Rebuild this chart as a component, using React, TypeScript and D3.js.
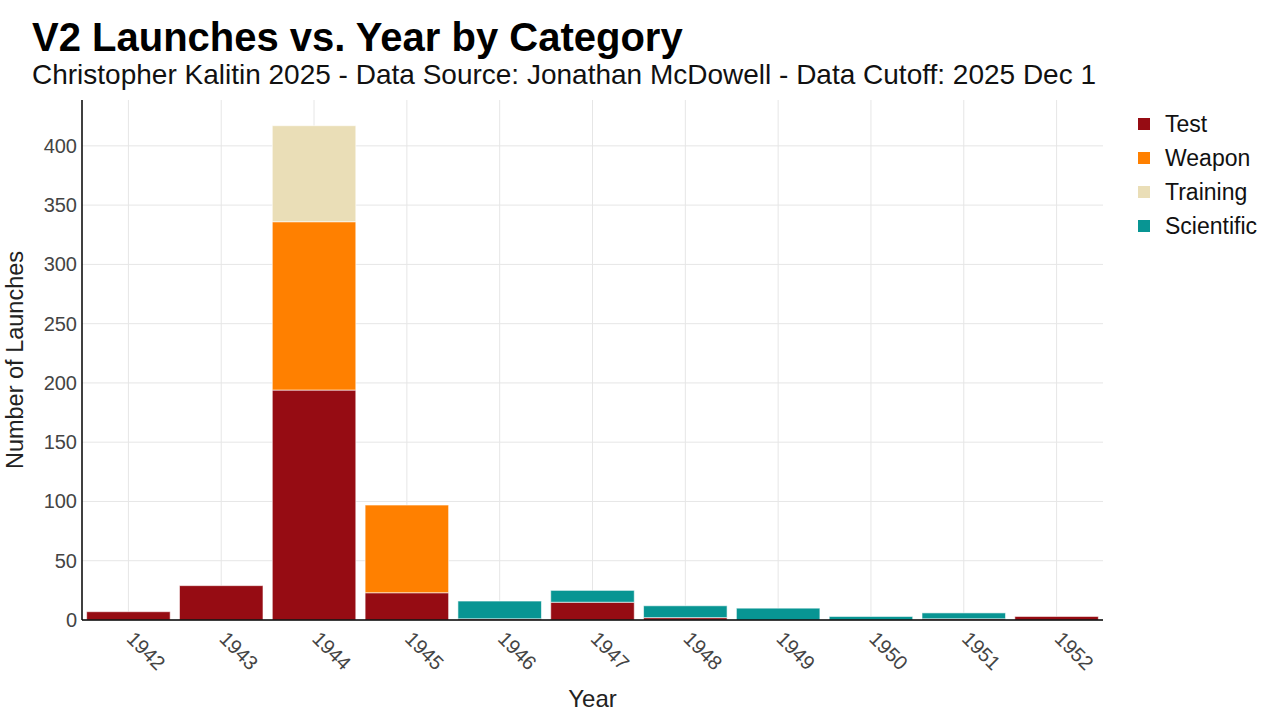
import { useMemo } from "react";
import * as d3 from "d3";

// ---------------------------------------------------------------------------
// Data
// ---------------------------------------------------------------------------

const YEARS = ["1942", "1943", "1944", "1945", "1946", "1947", "1948", "1949", "1950", "1951", "1952"];

const CATEGORIES = ["Test", "Weapon", "Training", "Scientific"];

const TEST = [7, 29, 194, 23, 1, 15, 2, 0, 0, 1, 3];
const WEAPON = [0, 0, 142, 74, 0, 0, 0, 0, 0, 0, 0];
const TRAINING = [0, 0, 81, 0, 0, 0, 0, 0, 0, 0, 0];
const SCIENTIFIC = [0, 0, 0, 0, 15, 10, 10, 10, 3, 5, 0];

const Y_TICKS = [0, 50, 100, 150, 200, 250, 300, 350, 400];

const COLORS: Record<string, string> = {
  Test: "#960c13",
  Weapon: "#ff8000",
  Training: "#eadeb7",
  Scientific: "#089593",
};

const FONT = "'Liberation Sans', Arial, sans-serif";

// ---------------------------------------------------------------------------

export default function App() {
  const width = 1280;
  const height = 720;
  const margin = { top: 100, right: 177, bottom: 100, left: 82 };
  const innerW = width - margin.left - margin.right;
  const innerH = height - margin.top - margin.bottom;

  const rows = useMemo(
    () =>
      YEARS.map((year, i) => ({
        year,
        Test: TEST[i],
        Weapon: WEAPON[i],
        Training: TRAINING[i],
        Scientific: SCIENTIFIC[i],
      })),
    []
  );

  const stacked = useMemo(() => d3.stack<any>().keys(CATEGORIES)(rows), [rows]);

  const maxTotal = d3.max(rows, (r) => r.Test + r.Weapon + r.Training + r.Scientific) ?? 0;

  const x = d3.scaleBand().domain(YEARS).range([0, innerW]).paddingInner(0.1).paddingOuter(0.05);
  const y = d3.scaleLinear().domain([0, maxTotal * 1.052]).range([innerH, 0]);

  return (
    <svg width={width} height={height} style={{ position: "absolute", left: 0, top: 0, background: "#fff" }}>
      <text x={32} y={51} fontFamily={FONT} fontSize={40} fontWeight="bold" fill="#000">
        V2 Launches vs. Year by Category
      </text>
      <text x={32} y={84} fontFamily={FONT} fontSize={28} fill="#111">
        Christopher Kalitin 2025 - Data Source: Jonathan McDowell - Data Cutoff: 2025 Dec 1
      </text>

      <g transform={`translate(${margin.left},${margin.top})`}>
        {/* gridlines */}
        {YEARS.map((yr) => (
          <line
            key={`gx-${yr}`}
            x1={x(yr)! + x.bandwidth() / 2}
            x2={x(yr)! + x.bandwidth() / 2}
            y1={0}
            y2={innerH}
            stroke="#e6e6e6"
            strokeWidth={1}
          />
        ))}
        {Y_TICKS.map((t) => (
          <line key={`gy-${t}`} x1={0} x2={innerW} y1={y(t)} y2={y(t)} stroke="#e6e6e6" strokeWidth={1} />
        ))}

        {/* bars */}
        {stacked.map((layer) => (
          <g key={layer.key}>
            {layer.map((d, i) =>
              d[1] - d[0] > 0 ? (
                <rect
                  key={i}
                  x={x(YEARS[i])}
                  width={x.bandwidth()}
                  y={y(d[1])}
                  height={y(d[0]) - y(d[1])}
                  fill={COLORS[layer.key]}
                  stroke="#ffffff"
                  strokeOpacity={0.6}
                  strokeWidth={1}
                />
              ) : null
            )}
          </g>
        ))}

        {/* axes */}
        <line x1={0} x2={0} y1={0} y2={innerH} stroke="#000" strokeWidth={1.5} />
        <line x1={0} x2={innerW} y1={innerH} y2={innerH} stroke="#000" strokeWidth={1.5} />

        {Y_TICKS.map((t) => (
          <text
            key={`yt-${t}`}
            x={-5}
            y={y(t)}
            dy="0.35em"
            textAnchor="end"
            fontFamily={FONT}
            fontSize={20}
            fill="#444"
          >
            {t}
          </text>
        ))}

        {YEARS.map((yr) => (
          <text
            key={`xt-${yr}`}
            transform={`translate(${x(yr)! + x.bandwidth() / 2 - 3},${innerH + 20}) rotate(45)`}
            textAnchor="start"
            fontFamily={FONT}
            fontSize={20}
            fill="#444"
          >
            {yr}
          </text>
        ))}

        <text
          x={innerW / 2}
          y={innerH + 87}
          textAnchor="middle"
          fontFamily={FONT}
          fontSize={24}
          fill="#222"
        >
          Year
        </text>
        <text
          transform={`translate(${-59},${innerH / 2}) rotate(-90)`}
          textAnchor="middle"
          fontFamily={FONT}
          fontSize={23.5}
          fill="#222"
        >
          Number of Launches
        </text>
      </g>

      {/* legend */}
      <g transform="translate(1138,124)">
        {CATEGORIES.map((c, i) => (
          <g key={c} transform={`translate(0,${i * 34})`}>
            <rect x={0} y={-6} width={12} height={12} fill={COLORS[c]} />
            <text x={27} y={0} dy="0.35em" fontFamily={FONT} fontSize={23} fill="#111">
              {c}
            </text>
          </g>
        ))}
      </g>
    </svg>
  );
}
